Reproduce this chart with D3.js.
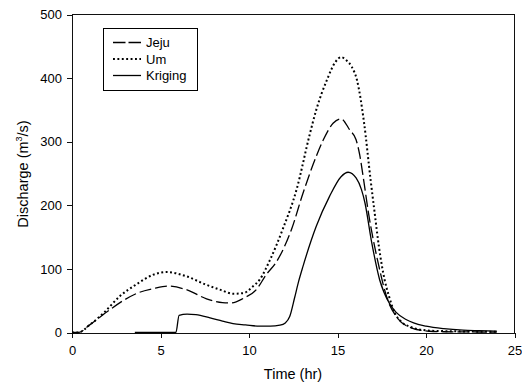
<!DOCTYPE html>
<html lang="en">
    <head>
        <meta charset="utf-8">
        <title>Discharge</title>
        <script type="text/javascript" src="https://d3js.org/d3.v7.min.js"></script>
        <style>
            body {
                margin: 0;
                background: white;
            }

            text {
                font-family: "Liberation Sans", Arial, sans-serif;
                fill: black;
            }

            .axis path, .axis line, .frame {
                stroke: #111;
                stroke-width: 1;
                shape-rendering: crispEdges;
            }

            .axis text {
                font-size: 13px;
            }

            .axisLabel {
                font-size: 14.5px;
            }

            .series {
                fill: none;
                stroke: black;
            }
        </style>
    </head>
    <body>
        <div id="svgContainer"></div>
        <script type="text/javascript">
            //data
            let jejuTime = [0, 0.35, 1, 2, 3, 3.7, 4.6, 5.4, 6.5, 7.6, 8.5, 9.0, 9.7, 10.4, 11.0, 11.5, 12.4, 13.05, 13.8, 14.2, 14.75, 15.2, 15.7, 16.05, 16.25, 16.45, 16.75, 17.3, 17.85, 18.3, 19.2, 20.2, 21, 22, 23, 24];
            let jejuValue = [0, 0, 12, 33, 52, 62, 69, 73, 67, 53, 47, 46.5, 54, 67, 92, 109, 162, 219, 277, 303, 329, 336, 318, 303, 280, 245, 188, 109, 50, 26, 7, 2, 1.2, 1, 0.8, 0.6];

            let umTime = [0, 0.35, 1, 1.8, 2.7, 3.6, 4.6, 5.35, 6.5, 7.5, 8.4, 9.1, 9.7, 10.2, 10.6, 11.2, 11.9, 12.7, 13.4, 13.8, 14.4, 14.9, 15.2, 15.5, 15.8, 16.1, 16.5, 16.87, 17.1, 17.34, 17.66, 17.91, 18.23, 18.6, 19.2, 19.8, 20.5, 21.5, 22.5, 24];
            let umValue = [0, 0, 12, 31, 57, 75, 91, 95, 88, 76, 67, 61, 62, 72, 83, 115, 162, 226, 308, 350, 397, 426, 433, 428, 418, 397, 330, 240, 188, 135, 83, 57, 31, 17, 8, 4, 2.5, 2, 1.5, 1];

            let krigingTime = [3.55, 5.87, 6.05, 6.5, 7.0, 7.8, 8.5, 9.1, 9.8, 10.6, 11.2, 11.75, 12.05, 12.3, 12.58, 12.8, 13.05, 13.8, 14.55, 15.2, 15.6, 16.05, 16.35, 16.55, 16.91, 17.38, 17.95, 18.3, 18.9, 19.3, 20.0, 21, 22.1, 23, 24];
            let krigingValue = [0, 0, 27, 29, 28, 23, 18, 14, 12, 10, 10, 11.5, 15, 25, 55, 80, 104, 167, 214, 245, 252, 243, 225, 204, 145, 83, 45, 32, 20, 15, 10, 6, 3.6, 2.8, 2];

            let seriesNames = ["Jeju", "Um", "Kriging"];
            let xTicks = [0, 5, 10, 15, 20, 25];
            let yTicks = [0, 100, 200, 300, 400, 500];

            //set svg size
            let w = 522;
            let h = 387;
            let padLeft = 72, padRight = 7.5, padTop = 14.5, padBottom = 54.5;

            let dataset = [
                {name: seriesNames[0], dash: "12,4", width: 1.3, points: d3.zip(jejuTime, jejuValue)},
                {name: seriesNames[1], dash: "1.9,2.5", width: 2, points: d3.zip(umTime, umValue)},
                {name: seriesNames[2], dash: null, width: 1.3, points: d3.zip(krigingTime, krigingValue)}
            ];

            let xScale = d3.scaleLinear()
                            .domain([0, 25])
                            .range([padLeft, w - padRight]);

            let yScale = d3.scaleLinear()
                            .domain([0, 500])
                            .range([h - padBottom, padTop]);

            let svg = d3.select("#svgContainer")
                        .append("svg")
                        .attr("width", w)
                        .attr("height", h);

            //frame on top and right
            svg.append("line")
                .attr("class", "frame")
                .attr("x1", xScale(0)).attr("x2", xScale(25))
                .attr("y1", yScale(500)).attr("y2", yScale(500));
            svg.append("line")
                .attr("class", "frame")
                .attr("x1", xScale(25)).attr("x2", xScale(25))
                .attr("y1", yScale(500)).attr("y2", yScale(0));

            //axes
            svg.append("g")
                .attr("class", "axis")
                .attr("transform", `translate(0, ${yScale(0)})`)
                .call(d3.axisBottom(xScale).tickValues(xTicks).tickSize(5).tickSizeOuter(0).tickPadding(8));

            svg.append("g")
                .attr("class", "axis")
                .attr("transform", `translate(${xScale(0)}, 0)`)
                .call(d3.axisLeft(yScale).tickValues(yTicks).tickSize(5).tickSizeOuter(0).tickPadding(5));

            //axis labels
            svg.append("text")
                .attr("class", "axisLabel")
                .attr("x", 293)
                .attr("y", 379)
                .attr("text-anchor", "middle")
                .text("Time (hr)");

            let yLabel = svg.append("text")
                .attr("class", "axisLabel")
                .attr("transform", "translate(28, 174) rotate(-90)")
                .attr("text-anchor", "middle");
            yLabel.append("tspan").text("Discharge (m");
            yLabel.append("tspan").attr("font-size", "9px").attr("dy", "-6").text("3");
            yLabel.append("tspan").attr("dy", "6").text("/s)");

            //lines
            let line = d3.line()
                        .x(d => xScale(d[0]))
                        .y(d => yScale(d[1]))
                        .curve(d3.curveMonotoneX);

            svg.selectAll(".series")
                .data(dataset)
                .enter()
                .append("path")
                .attr("class", "series")
                .attr("d", d => line(d.points))
                .attr("stroke-width", d => d.width)
                .attr("stroke-dasharray", d => d.dash);

            //legend
            let legend = svg.append("g");
            legend.append("rect")
                .attr("x", 103.5).attr("y", 28.5)
                .attr("width", 94).attr("height", 62)
                .attr("fill", "white")
                .attr("stroke", "black")
                .attr("stroke-width", 1);

            let rows = legend.selectAll(".row")
                .data(dataset)
                .enter()
                .append("g")
                .attr("transform", (d, i) => `translate(0, ${[42.5, 59, 75.5][i]})`);

            rows.append("line")
                .attr("x1", 113).attr("x2", 141)
                .attr("stroke", "black")
                .attr("stroke-width", d => d.width)
                .attr("stroke-dasharray", d => d.dash === "12,4" ? "12.5,3" : d.dash);

            rows.append("text")
                .attr("x", 146)
                .attr("dy", "0.35em")
                .attr("font-size", "13px")
                .text(d => d.name);
        </script>
    </body>
</html>
